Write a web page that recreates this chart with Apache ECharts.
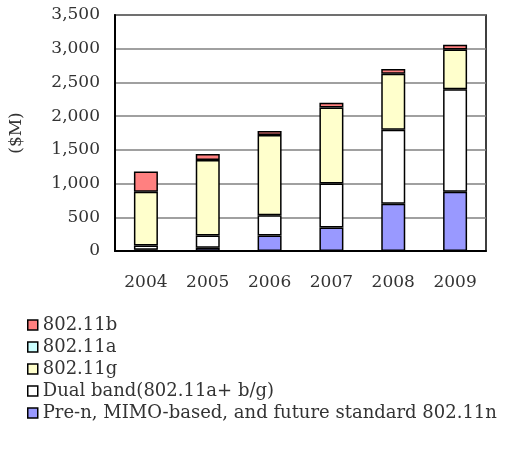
<!DOCTYPE html>
<html>
<head>
<meta charset="utf-8">
<script src="https://cdn.jsdelivr.net/npm/echarts@6/dist/echarts.min.js"></script>
<style>
  html, body { margin: 0; padding: 0; background: #fff; }
  #chart { width: 530px; height: 455px; }
</style>
</head>
<body>
<div id="chart"></div>
<script>
// years on the x axis
var years = ['2004', '2005', '2006', '2007', '2008', '2009'];
// stacked from the bottom up
var preN = [20, 50, 230, 350, 700, 880];
var dualBand = [60, 180, 300, 650, 1100, 1520];
var g80211 = [800, 1120, 1190, 1130, 830, 590];
var a80211 = [0, 0, 0, 0, 0, 0];
var b80211 = [300, 90, 60, 70, 70, 70];

var font = 'DejaVu Serif';
var chart = echarts.init(document.getElementById('chart'));

function bar(name, data, color) {
    return {
        name: name,
        type: 'bar',
        stack: 'total',
        // zero segments are skipped so they don't draw a stray border line
        data: data.map(function (v) { return v === 0 ? '-' : v; }),
        barWidth: 24,
        itemStyle: { color: color, borderColor: '#000', borderWidth: 1.5 },
        emphasis: { disabled: true }
    };
}

chart.setOption({
    animation: false,
    grid: {
        left: 110, right: 44, top: 15, bottom: 204,
        show: true, borderColor: '#000', borderWidth: 1.5
    },
    legend: {
        orient: 'vertical',
        left: 22, top: 311,
        itemWidth: 10, itemHeight: 10, itemGap: 4,
        icon: 'rect',
        data: ['802.11b', '802.11a', '802.11g', 'Dual band(802.11a+ b/g)',
            'Pre-n, MIMO-based, and future standard 802.11n'],
        itemStyle: { borderColor: '#000', borderWidth: 1.5 },
        textStyle: { fontFamily: font, fontSize: 18, color: '#333' }
    },
    xAxis: {
        type: 'category',
        data: years,
        axisLine: { lineStyle: { color: '#000', width: 2 } },
        axisTick: { inside: true, length: 5, lineStyle: { color: '#000', width: 1.5 } },
        axisLabel: { fontFamily: font, fontSize: 17, color: '#333', margin: 23 }
    },
    yAxis: {
        type: 'value',
        min: 0, max: 3500, interval: 500,
        name: '($M)',
        nameLocation: 'middle',
        nameGap: 90,
        nameTextStyle: { fontFamily: font, fontSize: 17, color: '#333' },
        axisLine: { show: true, lineStyle: { color: '#000', width: 2 } },
        axisTick: { show: false },
        splitLine: { lineStyle: { color: '#808080', width: 1.5 } },
        axisLabel: {
            fontFamily: font, fontSize: 17, color: '#333', margin: 15,
            formatter: function (v) { return v.toLocaleString('en-US'); }
        }
    },
    series: [
        bar('Pre-n, MIMO-based, and future standard 802.11n', preN, '#9999FF'),
        bar('Dual band(802.11a+ b/g)', dualBand, '#FFFFFF'),
        bar('802.11g', g80211, '#FFFFCC'),
        bar('802.11a', a80211, '#CCFFFF'),
        bar('802.11b', b80211, '#FF8080')
    ]
});
</script>
</body>
</html>
